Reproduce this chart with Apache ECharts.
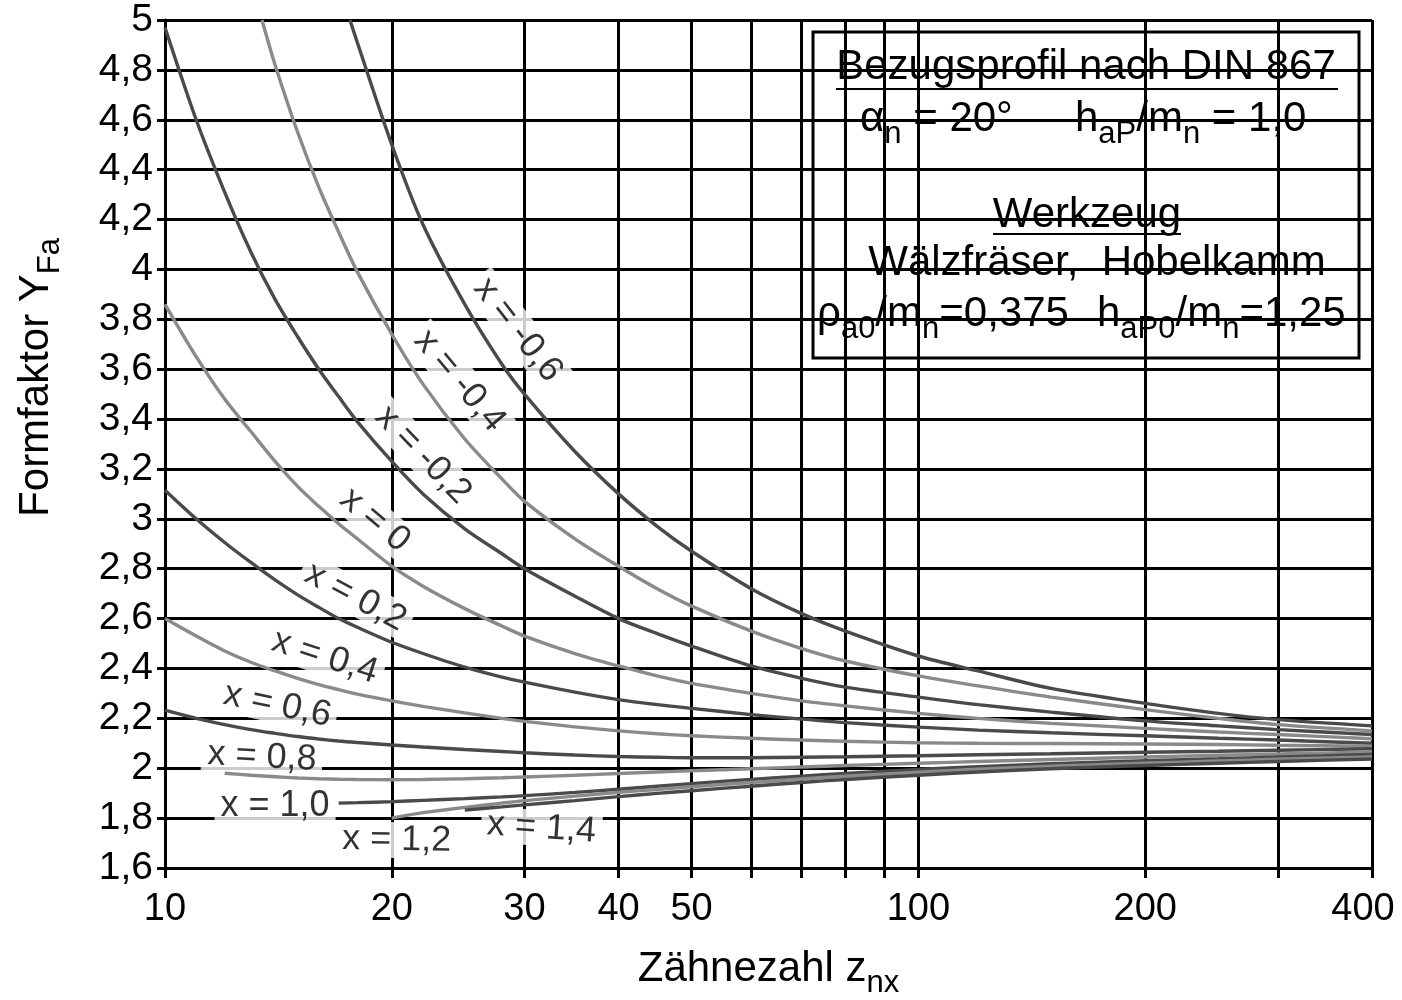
<!DOCTYPE html>
<html>
<head>
<meta charset="utf-8">
<script src="https://cdn.jsdelivr.net/npm/echarts@6/dist/echarts.min.js"></script>
<style>
html,body{margin:0;padding:0;background:#fff;}
#main{width:1402px;height:1000px;}
</style>
</head>
<body>
<div id="main"></div>
<script>
// ---- data ----
const X_TICKS = [10, 20, 30, 40, 50, 60, 70, 80, 90, 100, 200, 300, 400];
const X_LABELS = [10, 20, 30, 40, 50, 100, 200, 400];

const SHIFT_NAMES = ['x = -0,6', 'x = -0,4', 'x = -0,2', 'x = 0', 'x = 0,2', 'x = 0,4',
                     'x = 0,6', 'x = 0,8', 'x = 1,0', 'x = 1,2', 'x = 1,4'];

// Zähnezahl z (per curve) and Formfaktor Y_Fa
const Z_M06 = [17.6, 18, 20, 22, 25, 28, 30, 35, 40, 45, 50, 60, 70, 80, 100, 120, 150, 200, 250, 300, 400];
const Y_M06 = [5.0, 4.91, 4.50, 4.18, 3.86, 3.62, 3.50, 3.27, 3.10, 2.97, 2.87, 2.72, 2.62, 2.55, 2.45, 2.39, 2.32, 2.26, 2.22, 2.195, 2.17];

const Z_M04 = [13.45, 14, 15, 16, 17, 18, 20, 22, 25, 28, 30, 35, 40, 45, 50, 60, 70, 80, 100, 120, 150, 200, 250, 300, 400];
const Y_M04 = [5.0, 4.82, 4.55, 4.33, 4.15, 3.99, 3.74, 3.54, 3.32, 3.16, 3.07, 2.92, 2.81, 2.72, 2.65, 2.55, 2.48, 2.43, 2.37, 2.33, 2.285, 2.235, 2.20, 2.175, 2.15];

const Z_M02 = [10, 11, 12, 13, 14, 15, 16, 17, 18, 20, 22, 25, 28, 30, 35, 40, 45, 50, 60, 70, 80, 100, 120, 150, 200, 250, 300, 400];
const Y_M02 = [4.97, 4.60, 4.31, 4.07, 3.88, 3.73, 3.60, 3.49, 3.39, 3.23, 3.10, 2.96, 2.86, 2.80, 2.69, 2.60, 2.54, 2.49, 2.41, 2.36, 2.325, 2.285, 2.255, 2.225, 2.19, 2.17, 2.155, 2.135];

const Z_P00 = [10, 11, 12, 13, 14, 15, 16, 17, 18, 20, 22, 25, 28, 30, 35, 40, 45, 50, 60, 70, 80, 100, 120, 150, 200, 250, 300, 400];
const Y_P00 = [3.86, 3.65, 3.48, 3.35, 3.23, 3.13, 3.05, 2.98, 2.92, 2.81, 2.73, 2.64, 2.57, 2.53, 2.46, 2.41, 2.37, 2.34, 2.30, 2.27, 2.25, 2.22, 2.20, 2.18, 2.16, 2.145, 2.135, 2.118];

const Z_P02 = [10, 11, 12, 13, 14, 15, 16, 17, 18, 20, 22, 25, 28, 30, 35, 40, 45, 50, 60, 70, 80, 100, 120, 150, 200, 250, 300, 400];
const Y_P02 = [3.115, 3.00, 2.905, 2.825, 2.755, 2.695, 2.645, 2.60, 2.565, 2.505, 2.46, 2.405, 2.365, 2.345, 2.305, 2.275, 2.255, 2.24, 2.215, 2.197, 2.183, 2.165, 2.153, 2.142, 2.13, 2.12, 2.113, 2.10];

const Z_P04 = [10, 11, 12, 13, 14, 15, 16, 17, 18, 20, 22, 25, 28, 30, 35, 40, 45, 50, 60, 70, 80, 100, 120, 150, 200, 250, 300, 400];
const Y_P04 = [2.60, 2.53, 2.47, 2.425, 2.39, 2.36, 2.335, 2.315, 2.297, 2.27, 2.248, 2.222, 2.20, 2.188, 2.166, 2.15, 2.138, 2.13, 2.12, 2.113, 2.108, 2.102, 2.10, 2.099, 2.097, 2.095, 2.092, 2.088];

const Z_P06 = [10, 11, 12, 13, 14, 15, 16, 17, 18, 20, 22, 25, 28, 30, 35, 40, 45, 50, 60, 70, 80, 100, 120, 150, 200, 250, 300, 400];
const Y_P06 = [2.233, 2.20, 2.175, 2.155, 2.14, 2.127, 2.117, 2.109, 2.103, 2.093, 2.085, 2.075, 2.067, 2.062, 2.053, 2.047, 2.044, 2.042, 2.042, 2.044, 2.046, 2.05, 2.054, 2.058, 2.064, 2.068, 2.072, 2.078];

const Z_P08 = [12, 13, 14, 15, 16, 17, 18, 20, 22, 25, 28, 30, 35, 40, 45, 50, 60, 70, 80, 100, 120, 150, 200, 250, 300, 400];
const Y_P08 = [1.98, 1.972, 1.966, 1.961, 1.958, 1.956, 1.955, 1.954, 1.955, 1.958, 1.962, 1.965, 1.972, 1.979, 1.985, 1.99, 1.998, 2.005, 2.011, 2.02, 2.027, 2.035, 2.045, 2.052, 2.057, 2.065];

const Z_P10 = [17, 18, 20, 22, 25, 28, 30, 35, 40, 45, 50, 60, 70, 80, 100, 120, 150, 200, 250, 300, 400];
const Y_P10 = [1.86, 1.862, 1.866, 1.871, 1.878, 1.885, 1.89, 1.903, 1.916, 1.928, 1.938, 1.955, 1.968, 1.979, 1.995, 2.006, 2.018, 2.03, 2.038, 2.045, 2.055];

const Z_P12 = [20, 21, 22, 25, 28, 30, 35, 40, 45, 50, 60, 70, 80, 100, 120, 150, 200, 250, 300, 400];
const Y_P12 = [1.80, 1.812, 1.822, 1.843, 1.86, 1.87, 1.888, 1.903, 1.915, 1.926, 1.943, 1.957, 1.968, 1.984, 1.996, 2.008, 2.02, 2.029, 2.036, 2.045];

const Z_P14 = [25, 28, 30, 35, 40, 45, 50, 60, 70, 80, 100, 120, 150, 200, 250, 300, 400];
const Y_P14 = [1.832, 1.845, 1.853, 1.87, 1.886, 1.899, 1.91, 1.928, 1.943, 1.955, 1.972, 1.985, 1.998, 2.011, 2.02, 2.027, 2.037];

// curve label anchors (data coordinates) and text angles
const LABEL_Z = [29.4, 24.6, 22.0, 19.0, 17.9, 16.3, 14.1, 13.45, 14.0, 20.3, 31.6];
const LABEL_Y = [3.757, 3.553, 3.256, 2.995, 2.686, 2.446, 2.253, 2.045, 1.848, 1.712, 1.760];
const LABEL_ANGLE = [-52, -50, -46, -40, -28, -18, -12, -3, 0, -1, -4];

const CURVES = [
  [Z_M06, Y_M06], [Z_M04, Y_M04], [Z_M02, Y_M02], [Z_P00, Y_P00], [Z_P02, Y_P02],
  [Z_P04, Y_P04], [Z_P06, Y_P06], [Z_P08, Y_P08], [Z_P10, Y_P10], [Z_P12, Y_P12], [Z_P14, Y_P14]
];

// ---- styling ----
const FONT = '"Liberation Sans", Arial, Helvetica, sans-serif';
const DARK = '#4a4a4a';
const LIGHT = '#8a8a8a';
const lg = Math.log10;

const series = CURVES.map((c, i) => ({
  type: 'line',
  name: SHIFT_NAMES[i],
  data: c[0].map((z, k) => [lg(z), c[1][k]]),
  showSymbol: false,
  smooth: 0.3,
  z: 5,
  lineStyle: { color: i % 2 === 0 ? DARK : LIGHT, width: 3.4 },
  silent: true
}));

series.push({
  type: 'scatter',
  z: 3,
  symbolSize: 0,
  silent: true,
  data: SHIFT_NAMES.map((t, i) => ({
    value: [lg(LABEL_Z[i]), LABEL_Y[i]],
    label: { rotate: LABEL_ANGLE[i] },
    name: t
  })),
  label: {
    show: true,
    position: 'inside',
    formatter: p => p.name,
    color: '#000',
    textBorderWidth: 0,
    textBorderColor: 'transparent',
    fontFamily: FONT,
    fontSize: 36,
    backgroundColor: '#fff',
    padding: [0, 6, 0, 6]
  }
});

const sub = (size, drop) => ({ fontSize: size, fontFamily: FONT, color: '#000', verticalAlign: 'top', lineHeight: size, padding: [drop, 0, 0, 0] });
const main = (size) => ({ fontSize: size, fontFamily: FONT, color: '#000', verticalAlign: 'top', lineHeight: size + 4 });

const option = {
  backgroundColor: '#fff',
  animation: false,
  grid: { left: 165, right: 30, top: 20, bottom: 132, containLabel: false, outerBoundsMode: 'none' },
  xAxis: {
    type: 'value',
    min: 1,
    max: lg(400),
    axisLine: { show: true, lineStyle: { color: '#000', width: 3 } },
    axisTick: { show: true, inside: false, length: 10, customValues: X_TICKS.map(lg), lineStyle: { color: '#000', width: 3 } },
    axisLabel: {
      customValues: X_LABELS.map(lg),
      formatter: v => {
        const z = Math.round(Math.pow(10, v));
        return z === 400 ? '{e|' + z + '}' : String(z);
      },
      color: '#000', fontFamily: FONT, fontSize: 38, margin: 23,
      rich: { e: { fontFamily: FONT, fontSize: 38, color: '#000', padding: [0, 18, 0, 0] } }
    },
    splitLine: { show: true, lineStyle: { color: '#000', width: 3 } },
    name: '{m|Zähnezahl z}{s|nx}',
    nameLocation: 'middle',
    nameGap: 80,
    nameTextStyle: { rich: { m: main(42), s: sub(31, 20) } }
  },
  yAxis: {
    type: 'value',
    min: 1.6,
    max: 5,
    interval: 0.2,
    axisLine: { show: true, lineStyle: { color: '#000', width: 3 } },
    axisTick: { show: true, inside: false, length: 8, lineStyle: { color: '#000', width: 3 } },
    axisLabel: {
      formatter: v => String(+(+v).toFixed(1)).replace('.', ','),
      color: '#000', fontFamily: FONT, fontSize: 39, margin: 12
    },
    splitLine: { show: true, lineStyle: { color: '#000', width: 3 } }
  },
  graphic: [
    {
      type: 'text', left: 15, top: 238, rotation: Math.PI / 2, z: 10,
      style: { text: '{m|Formfaktor Y}{s|Fa}', rich: { m: main(42), s: sub(31, 20) } }
    },
    {
      type: 'group', z: 20,
      children: [
        { type: 'rect', shape: { x: 813, y: 32, width: 546, height: 326 }, style: { fill: '#fff', stroke: '#000', lineWidth: 3 } },
        { type: 'text', x: 1086, y: 46, style: { text: 'Bezugsprofil nach DIN 867', font: '42px ' + FONT, fill: '#000', align: 'center' } },
        { type: 'line', shape: { x1: 836, y1: 89, x2: 1338, y2: 89 }, style: { stroke: '#000', lineWidth: 2 } },
        { type: 'text', x: 860, y: 98, style: { text: '{m|α}{s|n}{m| = 20°}', rich: { m: main(42), s: sub(31, 21) } } },
        { type: 'text', x: 1075, y: 98, style: { text: '{m|h}{s|aP}{m|/m}{s|n}{m| = 1,0}', rich: { m: main(42), s: sub(31, 21) } } },
        { type: 'text', x: 1087, y: 194, style: { text: 'Werkzeug', font: '42px ' + FONT, fill: '#000', align: 'center' } },
        { type: 'line', shape: { x1: 993, y1: 234, x2: 1181, y2: 234 }, style: { stroke: '#000', lineWidth: 2 } },
        { type: 'text', x: 1097, y: 242, style: { text: 'Wälzfräser,  Hobelkamm', font: '42px ' + FONT, fill: '#000', align: 'center' } },
        { type: 'text', x: 817, y: 293, style: { text: '{m|ρ}{s|a0}{m|/m}{s|n}{m|=0,375}', rich: { m: main(42), s: sub(31, 21) } } },
        { type: 'text', x: 1097, y: 293, style: { text: '{m|h}{s|aP0}{m|/m}{s|n}{m|=1,25}', rich: { m: main(42), s: sub(31, 21) } } }
      ]
    }
  ],
  series: series
};

const chart = echarts.init(document.getElementById('main'));
chart.setOption(option);
</script>
</body>
</html>
